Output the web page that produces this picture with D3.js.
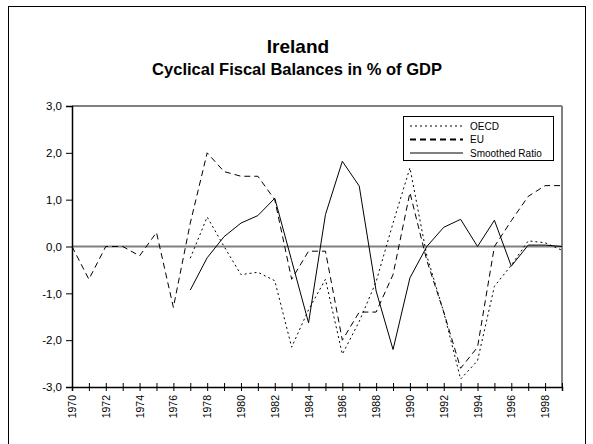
<!DOCTYPE html>
<html>
<head>
<meta charset="utf-8">
<script src="https://cdn.jsdelivr.net/npm/d3@7"></script>
<style>
  body { margin: 0; background: #fff; }
  text { font-family: "Liberation Sans", Arial, sans-serif; }
</style>
</head>
<body>
<div id="chart"></div>
<script>
// values, one entry per year
const years = d3.range(1970, 2000);
const eu = [0.0, -0.7, 0.0, 0.0, -0.2, 0.3, -1.3, 0.5, 2.0, 1.6,
            1.5, 1.5, 1.0, -0.7, -0.1, -0.1, -2.0, -1.4, -1.4, -0.6,
            1.15, -0.3, -1.4, -2.6, -2.15, 0.0, 0.55, 1.07, 1.3, 1.3];
const oecd = [null, null, null, null, null, null, null, -0.25, 0.63, 0.0,
              -0.6, -0.55, -0.73, -2.15, -1.35, -0.7, -2.3, -1.6, -0.75, 0.5,
              1.68, -0.2, -1.4, -2.83, -2.44, -0.85, -0.4, 0.12, 0.08, -0.08];
const smoothed = [null, null, null, null, null, null, null, -0.93, -0.24, 0.21,
                  0.5, 0.66, 1.03, -0.3, -1.63, 0.68, 1.82, 1.29, -0.95, -2.2,
                  -0.67, 0.0, 0.41, 0.58, 0.0, 0.56, -0.42, 0.03, 0.03, 0.0];
const yTicks = [-3, -2, -1, 0, 1, 2, 3];
const xLabels = d3.range(1970, 2000, 2);

const W = 593, H = 444;
const margin = { left: 72, right: 31, top: 106, bottom: 57 };

const svg = d3.select("#chart").append("svg")
  .attr("width", W).attr("height", H);

// outer frame
svg.append("rect")
  .attr("x", 8.5).attr("y", 6.5).attr("width", 577).attr("height", 445)
  .attr("fill", "none").attr("stroke", "#000").attr("stroke-width", 1);

svg.append("text").attr("x", 298).attr("y", 53)
  .attr("text-anchor", "middle").attr("font-weight", "bold")
  .attr("font-size", 19).text("Ireland");
svg.append("text").attr("x", 297).attr("y", 75)
  .attr("text-anchor", "middle").attr("font-weight", "bold")
  .attr("font-size", 16.5).text("Cyclical Fiscal Balances in % of GDP");

const x = d3.scaleLinear().domain([1970, 1999])
  .range([margin.left, W - margin.right]);
const y = d3.scaleLinear().domain([-3, 3])
  .range([H - margin.bottom, margin.top]);

// top and right frame of the plot
svg.append("line")
  .attr("x1", x(1970)).attr("x2", x(1999))
  .attr("y1", y(3)).attr("y2", y(3))
  .attr("stroke", "#000").attr("stroke-width", 1);
svg.append("line")
  .attr("x1", x(1999)).attr("x2", x(1999))
  .attr("y1", y(3)).attr("y2", y(-3))
  .attr("stroke", "#808080").attr("stroke-width", 2);

// zero line
svg.append("line")
  .attr("x1", x(1970)).attr("x2", x(1999))
  .attr("y1", y(0)).attr("y2", y(0))
  .attr("stroke", "#808080").attr("stroke-width", 2);

const fmt = (d) => d3.format(".1f")(d).replace(".", ",").replace("−", "-");

const yAxis = svg.append("g")
  .attr("transform", `translate(${x(1970)},0)`)
  .call(d3.axisLeft(y).tickValues(yTicks).tickSize(6).tickPadding(4).tickFormat(fmt));
yAxis.select(".domain").attr("stroke-width", 1.5);
yAxis.selectAll("text").attr("font-size", 11.5).attr("fill", "#000");

const xAxis = svg.append("g")
  .attr("transform", `translate(0,${y(-3)})`)
  .call(d3.axisBottom(x).tickValues(years).tickSize(4).tickFormat(""));
xAxis.select(".domain").attr("stroke-width", 1.5);
xAxis.selectAll(".tick line").attr("y1", -4).attr("y2", 4);

svg.append("g").selectAll("text").data(xLabels).join("text")
  .attr("transform", (d) => `translate(${x(d) + 4},${y(-3) + 8}) rotate(-90)`)
  .attr("text-anchor", "end")
  .attr("font-size", 10.5)
  .text((d) => d);

const series = [
  { name: "OECD", values: oecd, dash: "2,3", legendWidth: 1 },
  { name: "EU", values: eu, dash: "6,4", legendWidth: 2 },
  { name: "Smoothed Ratio", values: smoothed, dash: null, legendWidth: 1 }
];

const line = d3.line()
  .defined((d) => d[1] != null)
  .x((d) => x(d[0]))
  .y((d) => y(d[1]));

series.forEach((s) => {
  svg.append("path")
    .datum(years.map((yr, i) => [yr, s.values[i]]))
    .attr("fill", "none")
    .attr("stroke", "#000")
    .attr("stroke-width", 1)
    .attr("stroke-dasharray", s.dash)
    .attr("d", line);
});

// legend
const lg = svg.append("g");
lg.append("rect").attr("x", 403.5).attr("y", 116.5).attr("width", 150).attr("height", 44)
  .attr("fill", "#fff").attr("stroke", "#000").attr("stroke-width", 1);
series.forEach((s, i) => {
  const ly = 126 + i * 13.5;
  lg.append("line").attr("x1", 410).attr("x2", 463).attr("y1", ly).attr("y2", ly)
    .attr("stroke", "#000").attr("stroke-width", s.legendWidth)
    .attr("stroke-dasharray", s.dash);
  lg.append("text").attr("x", 470).attr("y", ly + 3.5)
    .attr("font-size", 10).text(s.name);
});
</script>
</body>
</html>
